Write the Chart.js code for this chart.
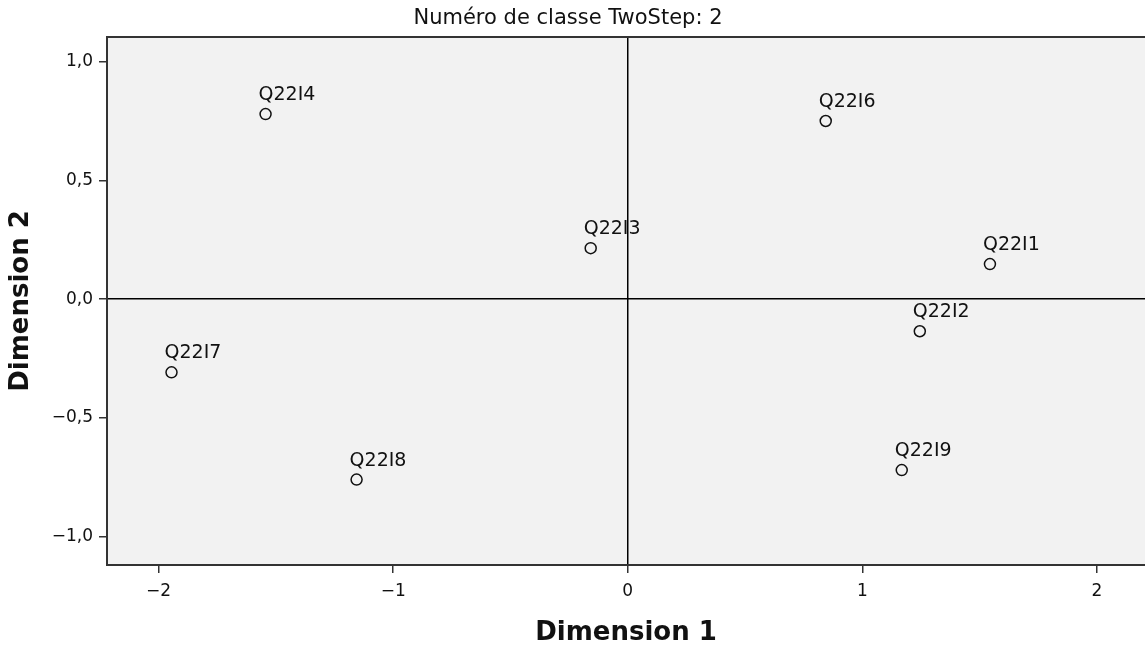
<!DOCTYPE html>
<html>
<head>
<meta charset="utf-8">
<script src="https://cdn.jsdelivr.net/npm/chart.js@4.4.1/dist/chart.umd.min.js"></script>
<style>
  html, body { margin: 0; padding: 0; background: #fff; overflow: hidden; }
  #wrap { width: 1145px; height: 653px; }
</style>
</head>
<body>
<div id="wrap"><canvas id="myChart"></canvas></div>
<script>
const labels = ["Q22I1", "Q22I2", "Q22I3", "Q22I4", "Q22I6", "Q22I7", "Q22I8", "Q22I9"];
const dim1 = [1.544, 1.245, -0.158, -1.544, 0.844, -1.945, -1.156, 1.168];
const dim2 = [0.148, -0.135, 0.215, 0.780, 0.751, -0.308, -0.760, -0.720];
const xTicks = [-2, -1, 0, 1, 2];
const yTicks = [-1, -0.5, 0, 0.5, 1];

const fontFamily = "'DejaVu Sans', 'Open Sans', sans-serif";

function fmt(v, digits) {
  let s = Math.abs(v).toFixed(digits).replace(".", ",");
  return v < 0 ? "\u2212" + s : s;
}

// background, top border, title, point labels
const decor = {
  id: "decor",
  beforeDraw(chart) {
    const { ctx, chartArea: a } = chart;
    ctx.save();
    ctx.fillStyle = "#f2f2f2";
    ctx.fillRect(a.left, a.top, a.right - a.left, a.bottom - a.top);
    ctx.restore();
  },
  afterDraw(chart) {
    const { ctx, chartArea: a } = chart;
    ctx.save();
    ctx.strokeStyle = "#333";
    ctx.lineWidth = 2;
    ctx.beginPath();
    ctx.moveTo(a.left - 1, a.top);
    ctx.lineTo(a.right, a.top);
    ctx.stroke();

    ctx.fillStyle = "#111";
    ctx.font = "21px " + fontFamily;
    ctx.textAlign = "center";
    ctx.textBaseline = "alphabetic";
    ctx.fillText("Numéro de classe TwoStep: 2", 568, 24);

    const meta = chart.getDatasetMeta(0);
    ctx.font = "19px " + fontFamily;
    ctx.textAlign = "left";
    meta.data.forEach((pt, i) => {
      ctx.fillText(labels[i], pt.x - 7, pt.y - 14);
    });
    ctx.restore();
  }
};

new Chart(document.getElementById("myChart"), {
  type: "scatter",
  data: {
    datasets: [{
      data: dim1.map((x, i) => ({ x: x, y: dim2[i] })),
      pointStyle: "circle",
      pointRadius: 5.5,
      pointHoverRadius: 5.5,
      borderColor: "#111",
      borderWidth: 1.5,
      backgroundColor: "rgba(0,0,0,0)"
    }]
  },
  options: {
    responsive: true,
    maintainAspectRatio: false,
    animation: false,
    layout: { autoPadding: false, padding: { top: 37, right: 0, left: 0, bottom: 0 } },
    plugins: {
      legend: { display: false },
      tooltip: { enabled: false }
    },
    scales: {
      x: {
        type: "linear",
        min: -2.22,
        max: 2.205,
        afterBuildTicks(scale) { scale.ticks = xTicks.map(v => ({ value: v })); },
        afterFit(scale) { scale.height = 88; scale.paddingRight = 0; },
        ticks: {
          color: "#111",
          font: { size: 17, family: fontFamily },
          padding: 8,
          maxRotation: 0,
          callback: v => fmt(v, 0)
        },
        grid: {
          drawOnChartArea: true,
          color: c => (c.tick && c.tick.value === 0 ? "#000" : "rgba(0,0,0,0)"),
          lineWidth: 1.5,
          tickColor: "#333",
          tickLength: 8
        },
        border: { display: true, color: "#333", width: 2 },
        title: {
          display: true,
          text: "Dimension 1",
          color: "#111",
          font: { size: 26, weight: "bold", family: fontFamily },
          padding: { top: 2 }
        }
      },
      y: {
        type: "linear",
        min: -1.12,
        max: 1.105,
        afterBuildTicks(scale) { scale.ticks = yTicks.map(v => ({ value: v })); },
        afterFit(scale) { scale.width = 107; },
        ticks: {
          color: "#111",
          font: { size: 17, family: fontFamily },
          padding: 6,
          callback: v => fmt(v, 1)
        },
        grid: {
          drawOnChartArea: true,
          color: c => (c.tick && c.tick.value === 0 ? "#000" : "rgba(0,0,0,0)"),
          lineWidth: 1.5,
          tickColor: "#333",
          tickLength: 8
        },
        border: { display: true, color: "#333", width: 2 },
        title: {
          display: true,
          text: "Dimension 2",
          color: "#111",
          font: { size: 26, weight: "bold", family: fontFamily },
          padding: { bottom: 0, top: 6 }
        }
      }
    }
  },
  plugins: [decor]
});
</script>
</body>
</html>
